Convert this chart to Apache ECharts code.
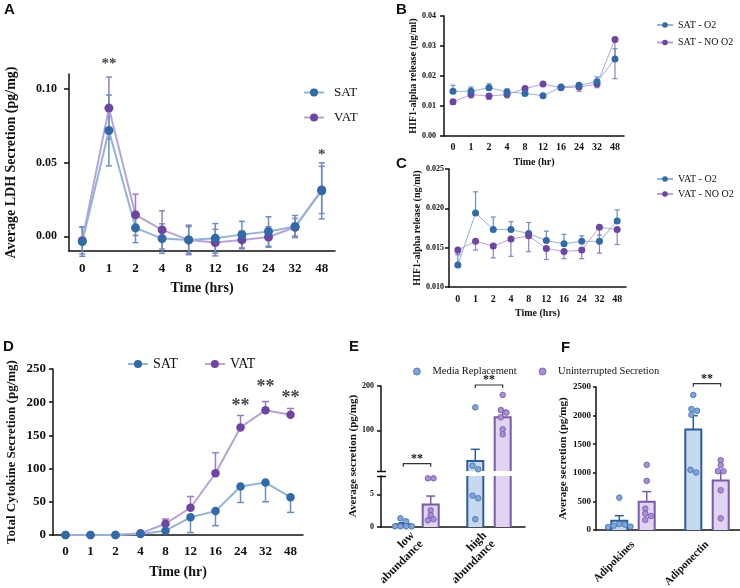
<!DOCTYPE html>
<html>
<head>
<meta charset="utf-8">
<title>LDH, HIF1-alpha and cytokine secretion</title>
<script src="https://cdn.jsdelivr.net/npm/echarts@6/dist/echarts.min.js"></script>
<style>
  html, body { margin: 0; padding: 0; background: #fff; }
  #chart { width: 740px; height: 588px; }
</style>
</head>
<body>
<div id="chart"></div>
<script>
// ---- data ----
const timeLabels = ['0', '1', '2', '4', '8', '12', '16', '24', '32', '48'];

// A: LDH secretion
const ldhSat = [-0.0036, 0.0717, 0.0057, -0.0016, -0.0025, -0.0014, 0.0011, 0.0032, 0.0066, 0.0308];
const ldhSatSem = [0.010, 0.024, 0.010, 0.010, 0.010, 0.010, 0.009, 0.010, 0.0075, 0.019];
const ldhVat = [-0.003, 0.0869, 0.0145, 0.0043, -0.0025, -0.0043, -0.0025, -0.0005, 0.0061, 0.0314];
const ldhVatSem = [0.009, 0.021, 0.014, 0.013, 0.009, 0.009, 0.006, 0.007, 0.006, 0.016];
const ldhStars = [['1', 0.1168, '**'], ['48', 0.0551, '*']];

// B: HIF1-alpha, SAT
const hifSatO2 = [0.0149, 0.0149, 0.0161, 0.0147, 0.0142, 0.0134, 0.0163, 0.0169, 0.0181, 0.0257];
const hifSatO2Sem = [0.002, 0.0014, 0.0013, 0.001, 0.0004, 0.0004, 0.0005, 0.0005, 0.0016, 0.0034];
const hifSatNoO2 = [0.0114, 0.0138, 0.0133, 0.0138, 0.0158, 0.0173, 0.0161, 0.0163, 0.0173, 0.0322];
const hifSatNoO2Sem = [0.0009, 0.0011, 0.0011, 0.0011, 0.0004, 0.0004, 0.0004, 0.0014, 0.0012, 0.0131];

// C: HIF1-alpha, VAT
const hifVatO2 = [0.0128, 0.0194, 0.0173, 0.0173, 0.0168, 0.0159, 0.0155, 0.0158, 0.0158, 0.0184];
const hifVatO2Sem = [0.0013, 0.0027, 0.0016, 0.001, 0.0014, 0.0012, 0.0012, 0.0007, 0.0008, 0.0014];
const hifVatNoO2 = [0.0147, 0.0158, 0.0152, 0.0161, 0.0165, 0.0149, 0.0145, 0.0147, 0.0176, 0.0173];
const hifVatNoO2Sem = [0.0005, 0.0011, 0.0015, 0.0022, 0.002, 0.0014, 0.0009, 0.0011, 0.0033, 0.0019];

// D: total cytokine secretion
const cytoSat = [0, 0, 0, 1.5, 6.5, 26.6, 36, 73, 79, 57];
const cytoSatSem = [0, 0, 0, 0, 2, 23, 22, 24, 29, 23];
const cytoVat = [0, 0, 0, 2.5, 17, 41, 93, 162, 188, 181];
const cytoVatSem = [0, 0, 0, 0, 7, 17, 31, 18, 13, 9.5];
const cytoStars = [['24', 193.5, '**'], ['32', 222, '**'], ['48', 205.6, '**']];

// E: cytokines by abundance
const eCategories = ['low\nabundance', 'high\nabundance'];
const eMediaMean = [0.43, 30.6];
const eMediaSem = [0.23, 26.4];
const eMediaPoints = [[1.33, 0.87, 0.1, 0.1, 0.1, 0.1], [151.8, 20, 11.8, 4.8, 4.4, 1.2]];
const eUnintMean = [3.45, 129.3];
const eUnintSem = [1.28, 15.8];
const eUnintPoints = [[7.45, 7.45, 2.55, 1.79, 1.02, 1.18], [179.7, 145.8, 139.7, 129.3, 102.2, 90.9]];
const eBrackets = [[0, 24.5], [1, 202.3]];
const eBracketLabels = ['**', '**'];

// F: adipokines
const fCategories = ['Adipokines', 'Adiponectin'];
const fMediaMean = [163, 1758];
const fMediaSem = [88, 240];
const fMediaPoints = [[566, 105, 95, 75, 60, 50], [2360, 2114, 2085, 2015, 1005, 1051]];
const fUnintMean = [496, 865];
const fUnintSem = [175, 164];
const fUnintPoints = [[1139, 858, 374, 286, 245, 175], [1221, 1133, 1028, 1028, 695, 204]];
const fBrackets = [[1, 2558]];
const fBracketLabels = ['**'];

// ---- style ----
const SERIF = '"Liberation Serif", "Times New Roman", serif';
const SANS = '"Liberation Sans", Arial, sans-serif';
const INK = '#111';

const BLUE = { marker: '#2f6aa9', line: '#91b3dc', err: '#6690c4', stripe: '#a9c7eb' };
const PURPLE = { marker: '#6e45a3', line: '#b9a2db', err: '#977cc7', stripe: '#c3ade6' };
const BLUE_BAR = { fill: '#c7d9ef', stroke: '#2b5d9b', dot: '#7fa5d9', dotEdge: '#3f70ae' };
const PURPLE_BAR = { fill: '#e0d5f0', stroke: '#7b58ad', dot: '#a890d6', dotEdge: '#7556aa' };

const BIG = { symbol: 9, line: 2, cap: 6, errW: 1.5, stripe: 6 };
const SMALL = { symbol: 7, line: 1, cap: 5, errW: 1.2, stripe: 4 };
const MID = { symbol: 8.5, line: 2, cap: 7, errW: 1.5, stripe: 5 };

const BAR_W = 16;
const BAR_OFF = 13.7;
const DOT_R = 2.8;

// ---- helpers ----
function catAxis(g, o) {
  return {
    type: 'category', gridIndex: g, data: o.data || timeLabels, boundaryGap: true,
    axisLine: { onZero: false, lineStyle: { color: INK, width: 1.5 } },
    axisTick: { alignWithLabel: true, length: o.tick || 4, lineStyle: { color: INK, width: 1.5 } },
    axisLabel: Object.assign({
      color: INK, fontFamily: SERIF, fontWeight: 'bold', fontSize: o.fs, margin: o.margin, interval: 0,
    }, o.label || {}),
    name: o.name, nameLocation: 'middle', nameGap: o.nameGap,
    nameTextStyle: { color: INK, fontFamily: SERIF, fontWeight: 'bold', fontSize: o.nameFs },
  };
}

function valAxis(g, o) {
  const ax = {
    type: 'value', gridIndex: g, min: o.min, max: o.max,
    splitLine: { show: false },
    axisLine: { show: true, lineStyle: { color: INK, width: 1.5 } },
    axisTick: { show: true, length: o.tick || 4, lineStyle: { color: INK, width: 1.5 } },
    axisLabel: { color: INK, fontFamily: SERIF, fontWeight: 'bold', fontSize: o.fs, margin: o.margin, formatter: o.fmt || ((v) => String(v)) },
    name: o.name, nameLocation: 'middle', nameGap: o.nameGap,
    nameTextStyle: { color: INK, fontFamily: SERIF, fontWeight: 'bold', fontSize: o.nameFs },
  };
  if (o.interval) ax.interval = o.interval;
  if (o.ticks) {
    ax.axisLabel.customValues = o.ticks;
    ax.axisTick.customValues = o.ticks;
  }
  return ax;
}

function errorBar(api, dir, color, cap, w) {
  const x = api.value(0), m = api.value(1), e = api.value(2);
  if (!e) return null;
  const hi = api.coord([x, dir >= 0 ? m + e : m]);
  const lo = api.coord([x, dir <= 0 ? m - e : m]);
  const cx = hi[0];
  const st = { stroke: color, lineWidth: w };
  const kids = [{ type: 'line', shape: { x1: cx, y1: hi[1], x2: cx, y2: lo[1] }, style: st }];
  if (dir >= 0) kids.push({ type: 'line', shape: { x1: cx - cap / 2, y1: hi[1], x2: cx + cap / 2, y2: hi[1] }, style: st });
  if (dir <= 0) kids.push({ type: 'line', shape: { x1: cx - cap / 2, y1: lo[1], x2: cx + cap / 2, y2: lo[1] }, style: st });
  return { type: 'group', children: kids };
}

// error bars, line with markers, light stripe across each marker
function lineGroup(g, name, means, sems, dir, col, sz) {
  return [
    {
      type: 'custom', xAxisIndex: g, yAxisIndex: g, z: 1, silent: true,
      data: means.map((m, i) => [i, m, sems[i]]),
      renderItem: (params, api) => errorBar(api, dir, col.err, sz.cap, sz.errW),
    },
    {
      type: 'line', name, xAxisIndex: g, yAxisIndex: g, z: 2, data: means,
      symbol: 'circle', symbolSize: sz.symbol,
      itemStyle: { color: col.marker },
      lineStyle: { color: col.line, width: sz.line },
      emphasis: { disabled: true },
    },
    {
      type: 'custom', xAxisIndex: g, yAxisIndex: g, z: 2, silent: true,
      data: means.map((m, i) => [i, m]),
      renderItem: (params, api) => {
        const c = api.coord([api.value(0), api.value(1)]);
        return {
          type: 'line',
          shape: { x1: c[0] - sz.stripe / 2, y1: c[1], x2: c[0] + sz.stripe / 2, y2: c[1] },
          style: { stroke: col.stripe, lineWidth: 1 },
        };
      },
    },
  ];
}

function starSeries(g, stars, fontSize) {
  return {
    type: 'scatter', xAxisIndex: g, yAxisIndex: g, z: 5, silent: true, clip: false,
    symbol: 'circle', symbolSize: 1, itemStyle: { color: 'rgba(0,0,0,0)' },
    label: { show: true, position: 'inside', formatter: '{b}', color: INK, fontFamily: SERIF, fontWeight: 'bold', fontSize },
    data: stars.map((s) => ({ name: s[2], value: [s[0], s[1]] })),
  };
}

// simple beeswarm: spread points sideways when they would overlap
function swarm(ys, d) {
  const order = ys.map((_, i) => i).sort((a, b) => ys[a] - ys[b]);
  const xs = ys.map(() => 0);
  const done = [];
  const minD = d * 0.85;
  order.forEach((i) => {
    for (let k = 0; k < 40; k++) {
      const off = k === 0 ? 0 : (k % 2 ? 1 : -1) * Math.ceil(k / 2) * d / 2;
      if (done.every((j) => Math.hypot(xs[j] - off, ys[j] - ys[i]) >= minD)) {
        xs[i] = off;
        break;
      }
    }
    done.push(i);
  });
  // centre each cluster of vertically touching points
  let start = 0;
  for (let n = 1; n <= order.length; n++) {
    if (n === order.length || ys[order[n]] - ys[order[n - 1]] >= d) {
      const grp = order.slice(start, n);
      const mean = grp.reduce((s, i) => s + xs[i], 0) / grp.length;
      grp.forEach((i) => { xs[i] -= mean; });
      start = n;
    }
  }
  return xs;
}

// bar + upward SEM + individual points, clipped to its grid (for the broken axis)
function barGroup(g, name, means, sems, points, side, col) {
  return {
    type: 'custom', name, xAxisIndex: g, yAxisIndex: g, z: 3, silent: true,
    itemStyle: { color: col.dot },
    data: means.map((m, i) => [i, m, sems[i]]),
    renderItem: (params, api) => {
      const cs = params.coordSys;
      const idx = api.value(0), m = api.value(1), e = api.value(2);
      const base = api.coord([idx, 0]);
      const top = api.coord([idx, m]);
      const cx = base[0] + side * BAR_OFF;
      const l = cx - BAR_W / 2, r = cx + BAR_W / 2;
      const yTop = Math.max(top[1], cs.y);
      const yBot = Math.min(base[1], cs.y + cs.height);
      const kids = [];
      const edge = { stroke: col.stroke, lineWidth: 2, fill: null };
      if (yBot > yTop) {
        kids.push({ type: 'rect', shape: { x: l, y: yTop, width: BAR_W, height: yBot - yTop }, style: { fill: col.fill } });
        if (top[1] >= cs.y) {
          kids.push({ type: 'polyline', shape: { points: [[l, yBot], [l, yTop], [r, yTop], [r, yBot]] }, style: edge });
        } else {
          kids.push({ type: 'line', shape: { x1: l, y1: yTop, x2: l, y2: yBot }, style: edge });
          kids.push({ type: 'line', shape: { x1: r, y1: yTop, x2: r, y2: yBot }, style: edge });
        }
      }
      const hi = api.coord([idx, m + e]);
      if (e && top[1] <= cs.y + cs.height && hi[1] >= cs.y) {
        const st = { stroke: col.stroke, lineWidth: 1.5 };
        kids.push({ type: 'line', shape: { x1: cx, y1: top[1], x2: cx, y2: hi[1] }, style: st });
        kids.push({ type: 'line', shape: { x1: cx - 4.5, y1: hi[1], x2: cx + 4.5, y2: hi[1] }, style: st });
      }
      const ys = points[idx]
        .map((v) => api.coord([idx, v])[1])
        .filter((y) => y >= cs.y && y <= cs.y + cs.height);
      const xs = swarm(ys, DOT_R * 2);
      ys.forEach((y, k) => {
        kids.push({
          type: 'circle', shape: { cx: cx + xs[k], cy: y, r: DOT_R },
          style: { fill: col.dot, stroke: col.dotEdge, lineWidth: 0.8 },
        });
      });
      return { type: 'group', children: kids };
    },
  };
}

function bracketSeries(g, list, labels) {
  return {
    type: 'custom', xAxisIndex: g, yAxisIndex: g, z: 4, silent: true,
    data: list,
    renderItem: (params, api) => {
      const c = api.coord([api.value(0), api.value(1)]);
      const l = c[0] - BAR_OFF, r = c[0] + BAR_OFF, y = c[1];
      return {
        type: 'group',
        children: [
          { type: 'polyline', shape: { points: [[l, y + 3], [l, y], [r, y], [r, y + 3]] }, style: { stroke: '#333', lineWidth: 1.2, fill: null } },
          { type: 'text', x: c[0], y: y - 5, style: { text: labels[params.dataIndex], align: 'center', verticalAlign: 'middle', font: 'bold 12px ' + SERIF, fill: INK } },
        ],
      };
    },
  };
}

function panelLetter(text, left, top) {
  return { type: 'text', left, top, style: { text, font: 'bold 15px ' + SANS, fill: INK } };
}

// ---- chart ----
const chart = echarts.init(document.getElementById('chart'));

const fix = (n) => (v) => v.toFixed(n);
const legendText = (fontSize, pad) => ({ color: INK, fontFamily: SERIF, fontSize, padding: [0, 0, 0, pad || 0] });
const gridBox = (left, top, width, height) => ({ left, top, width, height, outerBoundsMode: 'none' });

chart.setOption({
  animation: false,
  backgroundColor: '#fff',
  grid: [
    gridBox(69, 74, 266, 177),   // A
    gridBox(444, 16, 180, 120),  // B
    gridBox(449, 169, 177, 118), // C
    gridBox(53, 369, 250, 166),  // D
    gridBox(381, 386, 144, 85),  // E upper segment
    gridBox(381, 476, 144, 51),  // E lower segment
    gridBox(596, 387, 148, 143), // F
  ],
  xAxis: [
    catAxis(0, { fs: 13, margin: 11, tick: 5, name: 'Time (hrs)', nameGap: 30, nameFs: 14 }),
    catAxis(1, { fs: 10, margin: 6, name: 'Time (hr)', nameGap: 21, nameFs: 10 }),
    catAxis(2, { fs: 10, margin: 7, name: 'Time (hrs)', nameGap: 21, nameFs: 10 }),
    catAxis(3, { fs: 13, margin: 10, name: 'Time (hr)', nameGap: 30, nameFs: 14 }),
    { type: 'category', gridIndex: 4, data: eCategories, show: false },
    catAxis(5, { data: eCategories, fs: 12, margin: 11, tick: 5, label: { rotate: 45, lineHeight: 12 } }),
    catAxis(6, { data: fCategories, fs: 11, margin: 13, tick: 6, label: { rotate: 45 } }),
  ],
  yAxis: [
    valAxis(0, { min: -0.01, max: 0.11, ticks: [0, 0.05, 0.1], fmt: fix(2), fs: 12, margin: 12, tick: 5, name: 'Average LDH Secretion (pg/mg)', nameGap: 51, nameFs: 14 }),
    valAxis(1, { min: 0, max: 0.04, interval: 0.01, fmt: fix(2), fs: 8, margin: 8, name: 'HIF1-alpha release (ng/ml)', nameGap: 22, nameFs: 10 }),
    valAxis(2, { min: 0.01, max: 0.025, interval: 0.005, fmt: fix(3), fs: 8, margin: 5, name: 'HIF1-alpha release (ng/ml)', nameGap: 27, nameFs: 10 }),
    valAxis(3, { min: 0, max: 250, interval: 50, fs: 13, margin: 7, name: 'Total Cytokine Secretion (pg/mg)', nameGap: 35, nameFs: 13 }),
    valAxis(4, { min: 8, max: 200, ticks: [100, 200], fs: 8, margin: 7 }),
    valAxis(5, { min: 0, max: 7.8, ticks: [0, 5], fs: 8, margin: 7 }),
    valAxis(6, { min: 0, max: 2500, interval: 500, fs: 9, margin: 5, tick: 3, name: 'Average secretion (pg/mg)', nameGap: 24, nameFs: 11 }),
  ],
  legend: [
    {
      data: ['SAT', 'VAT'], orient: 'vertical', left: 298, top: 81,
      itemWidth: 20, itemHeight: 10, itemGap: 12, textStyle: legendText(13, 5), selectedMode: false,
    },
    {
      data: ['SAT - O2', 'SAT - NO O2'], orient: 'vertical', left: 651, top: 15,
      itemWidth: 16, itemHeight: 7, itemGap: 7.5, textStyle: legendText(10), selectedMode: false,
    },
    {
      data: ['VAT - O2', 'VAT - NO O2'], orient: 'vertical', left: 651, top: 169,
      itemWidth: 16, itemHeight: 7, itemGap: 5, textStyle: legendText(10), selectedMode: false,
    },
    {
      data: ['SAT', 'VAT'], orient: 'horizontal', left: 122, top: 352,
      itemWidth: 20, itemHeight: 10, itemGap: 26, textStyle: legendText(14), selectedMode: false,
    },
    {
      data: [
        { name: 'Media Replacement', icon: 'circle', itemStyle: { color: BLUE_BAR.dot, borderColor: BLUE_BAR.dotEdge, borderWidth: 0.8 } },
        { name: 'Uninterrupted Secretion', icon: 'circle', itemStyle: { color: PURPLE_BAR.dot, borderColor: PURPLE_BAR.dotEdge, borderWidth: 0.8 } },
      ],
      orient: 'horizontal', left: 408, top: 361,
      itemWidth: 7, itemHeight: 7, itemGap: 22, textStyle: legendText(10.5, 7), selectedMode: false,
    },
  ],
  series: [
    // A
    ...lineGroup(0, 'VAT', ldhVat, ldhVatSem, 0, PURPLE, BIG),
    ...lineGroup(0, 'SAT', ldhSat, ldhSatSem, 0, BLUE, BIG),
    starSeries(0, ldhStars, 15),
    // B
    ...lineGroup(1, 'SAT - NO O2', hifSatNoO2, hifSatNoO2Sem, -1, PURPLE, SMALL),
    ...lineGroup(1, 'SAT - O2', hifSatO2, hifSatO2Sem, 1, BLUE, SMALL),
    // C
    ...lineGroup(2, 'VAT - O2', hifVatO2, hifVatO2Sem, 1, BLUE, SMALL),
    ...lineGroup(2, 'VAT - NO O2', hifVatNoO2, hifVatNoO2Sem, -1, PURPLE, SMALL),
    // D
    ...lineGroup(3, 'VAT', cytoVat, cytoVatSem, 1, PURPLE, MID),
    ...lineGroup(3, 'SAT', cytoSat, cytoSatSem, -1, BLUE, MID),
    starSeries(3, cytoStars, 18),
    // E (broken axis: both segments draw the same data)
    barGroup(4, 'Media Replacement', eMediaMean, eMediaSem, eMediaPoints, -1, BLUE_BAR),
    barGroup(4, 'Uninterrupted Secretion', eUnintMean, eUnintSem, eUnintPoints, 1, PURPLE_BAR),
    barGroup(5, 'Media Replacement', eMediaMean, eMediaSem, eMediaPoints, -1, BLUE_BAR),
    barGroup(5, 'Uninterrupted Secretion', eUnintMean, eUnintSem, eUnintPoints, 1, PURPLE_BAR),
    bracketSeries(4, eBrackets, eBracketLabels),
    // F
    barGroup(6, 'Media Replacement', fMediaMean, fMediaSem, fMediaPoints, -1, BLUE_BAR),
    barGroup(6, 'Uninterrupted Secretion', fUnintMean, fUnintSem, fUnintPoints, 1, PURPLE_BAR),
    bracketSeries(6, fBrackets, fBracketLabels),
  ],
  graphic: [
    panelLetter('A', 4, 2),
    panelLetter('B', 396, 2),
    panelLetter('C', 396, 156),
    panelLetter('D', 3, 339),
    panelLetter('E', 349, 339),
    panelLetter('F', 561, 340),
    {
      type: 'text', x: 353, y: 456, rotation: Math.PI / 2,
      style: { text: 'Average secretion (pg/mg)', align: 'center', verticalAlign: 'middle', font: 'bold 11px ' + SERIF, fill: INK },
    },
    // axis break marks on panel E
    { type: 'line', shape: { x1: 377, y1: 471.5, x2: 386, y2: 471.5 }, style: { stroke: INK, lineWidth: 1.5 } },
    { type: 'line', shape: { x1: 377, y1: 476.5, x2: 386, y2: 476.5 }, style: { stroke: INK, lineWidth: 1.5 } },
  ],
});
</script>
</body>
</html>
